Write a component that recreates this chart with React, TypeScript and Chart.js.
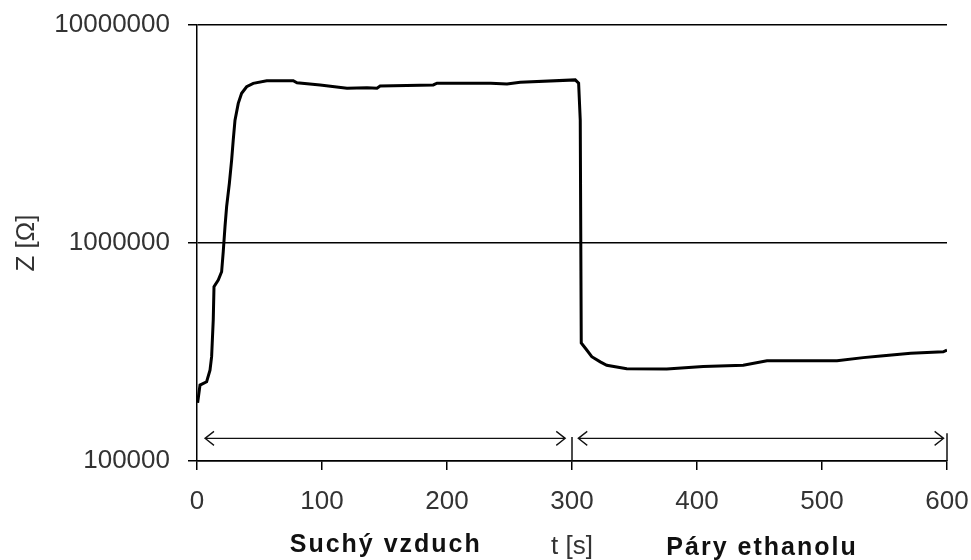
import { useEffect, useRef } from 'react';
import { Chart, registerables } from 'chart.js';

Chart.register(...registerables);

// time [s]
const timeS = [
  0.5, 2.4, 7.7, 10.4, 11.7, 13, 13.6, 17, 19.7, 21, 22.4, 23.7, 25.9, 27.7, 29, 30.4, 33, 35.7,
  39.7, 45, 55.8, 77, 80, 98.5, 120, 136, 144, 146.5, 189, 192, 235, 248, 258.6, 302.6, 305.3,
  306.6, 307.4, 311.8, 315.8, 322.6, 327.8, 343.8, 375.8, 405, 437, 456, 512, 533, 547, 571, 597, 600,
];
// impedance Z [Ω]
const impedanceOhm = [
  185000, 223000, 231000, 261000, 301000, 444000, 631000, 676000, 738000, 912000, 1190000, 1470000,
  1880000, 2400000, 2970000, 3660000, 4370000, 4860000, 5210000, 5400000, 5550000, 5550000, 5430000,
  5310000, 5130000, 5160000, 5130000, 5250000, 5310000, 5410000, 5410000, 5360000, 5460000, 5600000,
  5410000, 3660000, 348000, 323000, 301000, 285000, 275000, 265000, 264000, 271000, 275000, 288000,
  288000, 298000, 303000, 312000, 317000, 323000,
];

const yTickValues = [100000, 1000000, 10000000];
const xMin = 0;
const xMax = 600;
const xStep = 100;

const arrowSpans = [
  [6.4, 294.6],
  [305, 597.3],
];
const arrowLevel = 127000;
const dividerTimes = [300, 600];
const dividerTops = [129000, 134000];
const phaseLabels = ['Suchý vzduch', 'Páry ethanolu'];
const phaseCenters = [151, 452];
const xTitle = 't [s]';
const yTitle = 'Z [Ω]';

const FONT = '"Liberation Sans", Arial, sans-serif';

const annotations = {
  id: 'annotations',
  afterDatasetsDraw(chart: any) {
    const { ctx, chartArea } = chart;
    const x = chart.scales.x;
    const y = chart.scales.y;
    ctx.save();
    ctx.strokeStyle = '#111';
    ctx.lineWidth = 1.3;
    const ay = y.getPixelForValue(arrowLevel);
    arrowSpans.forEach(([a, b]) => {
      const xa = x.getPixelForValue(a);
      const xb = x.getPixelForValue(b);
      ctx.beginPath();
      ctx.moveTo(xa, ay);
      ctx.lineTo(xb, ay);
      ctx.moveTo(xa + 9, ay - 7);
      ctx.lineTo(xa, ay);
      ctx.lineTo(xa + 9, ay + 7);
      ctx.moveTo(xb - 9, ay - 7);
      ctx.lineTo(xb, ay);
      ctx.lineTo(xb - 9, ay + 7);
      ctx.stroke();
    });
    ctx.lineWidth = 1.5;
    dividerTimes.forEach((t, i) => {
      const px = x.getPixelForValue(t);
      ctx.beginPath();
      ctx.moveTo(px, y.getPixelForValue(dividerTops[i]));
      ctx.lineTo(px, chartArea.bottom);
      ctx.stroke();
    });
    ctx.fillStyle = '#111';
    ctx.font = `bold 25px ${FONT}`;
    try {
      (ctx as any).letterSpacing = '2px';
    } catch (e) {}
    ctx.textAlign = 'center';
    ctx.textBaseline = 'alphabetic';
    phaseLabels.forEach((s, i) => {
      ctx.fillText(s, x.getPixelForValue(phaseCenters[i]), chartArea.bottom + 91 + i * 3);
    });
    ctx.restore();
  },
};

export default function App() {
  const canvasRef = useRef<HTMLCanvasElement | null>(null);

  useEffect(() => {
    document.body.style.margin = '0';
    const canvas = canvasRef.current;
    if (!canvas) return;
    const chart = new Chart(canvas, {
      type: 'line',
      data: {
        datasets: [
          {
            data: timeS.map((t, i) => ({ x: t, y: impedanceOhm[i] })),
            borderColor: '#000',
            borderWidth: 3,
            pointRadius: 0,
            tension: 0,
            fill: false,
          },
        ],
      },
      options: {
        animation: false,
        responsive: true,
        maintainAspectRatio: false,
        layout: { padding: { left: 0, top: 25, right: 24, bottom: 0 } },
        plugins: { legend: { display: false }, tooltip: { enabled: false } },
        scales: {
          x: {
            type: 'linear',
            min: xMin,
            max: xMax,
            ticks: {
              stepSize: xStep,
              color: '#333',
              font: { family: FONT, size: 26 },
              padding: 16,
              maxRotation: 0,
            },
            grid: {
              drawOnChartArea: false,
              drawTicks: true,
              tickLength: 9,
              color: '#000',
              lineWidth: 1.5,
            },
            border: { display: true, color: '#000', width: 1.5 },
            title: {
              display: true,
              text: xTitle,
              color: '#333',
              font: { family: FONT, size: 26, lineHeight: 1 },
              padding: { top: 0, bottom: 0 },
            },
            afterFit(scale: any) {
              scale.height = 99;
              scale.paddingLeft = 0;
              scale.paddingRight = 0;
              scale.paddingTop = 0;
              scale.paddingBottom = 0;
            },
          },
          y: {
            type: 'logarithmic',
            min: yTickValues[0],
            max: yTickValues[yTickValues.length - 1],
            afterBuildTicks(scale: any) {
              scale.ticks = yTickValues.map((v) => ({ value: v }));
            },
            ticks: {
              color: '#333',
              font: { family: FONT, size: 26 },
              padding: 18,
              callback: (v: any) => String(v),
            },
            grid: {
              drawOnChartArea: true,
              drawTicks: true,
              tickLength: 9,
              color: '#000',
              lineWidth: 1.5,
            },
            border: { display: true, color: '#000', width: 1.5 },
            title: {
              display: true,
              text: yTitle,
              color: '#333',
              font: { family: FONT, size: 26 },
              padding: { top: 11, bottom: 0 },
            },
            afterFit(scale: any) {
              scale.width = 197;
              scale.paddingLeft = 0;
              scale.paddingRight = 0;
              scale.paddingTop = 0;
              scale.paddingBottom = 0;
            },
          },
        },
      },
      plugins: [annotations],
    });
    return () => chart.destroy();
  }, []);

  return (
    <div style={{ position: 'relative', width: 971, height: 560 }}>
      <canvas ref={canvasRef} />
    </div>
  );
}
